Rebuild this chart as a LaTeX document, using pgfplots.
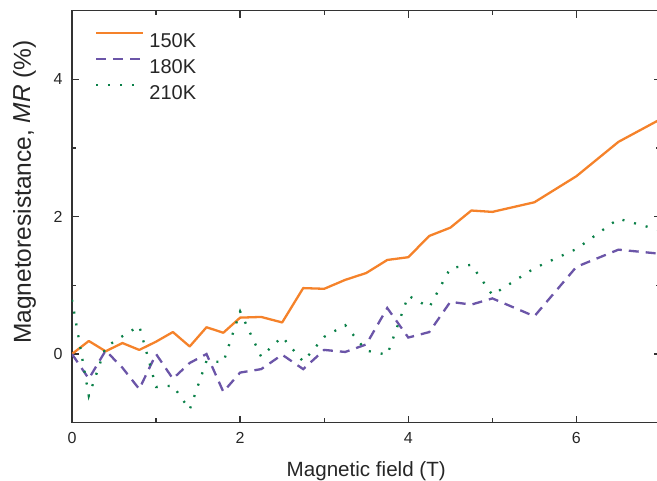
\documentclass[border=0pt]{standalone}
\usepackage{pgfplots}
\pgfplotsset{compat=1.18}
\usepackage{fontspec}
\setmainfont{Liberation Sans}

\definecolor{c150}{HTML}{F5822A}
\definecolor{c180}{HTML}{6B55A8}
\definecolor{c210}{HTML}{0A8048}
\definecolor{axisgray}{HTML}{333333}

\pgfplotstableread{
x y
0    0
0.2  0.19
0.4  0.04
0.6  0.16
0.8  0.06
1.0  0.18
1.2  0.32
1.4  0.11
1.6  0.39
1.8  0.31
2.0  0.53
2.25 0.54
2.5  0.46
2.75 0.96
3.0  0.95
3.25 1.08
3.5  1.18
3.75 1.37
4.0  1.41
4.25 1.72
4.5  1.84
4.75 2.09
5.0  2.07
5.5  2.21
6.0  2.59
6.5  3.09
7.0  3.42
}\tableA

\pgfplotstableread{
x y
0    0
0.2  -0.36
0.4  0.05
0.6  -0.20
0.8  -0.51
1.0  0.0
1.2  -0.36
1.4  -0.13
1.6  0.0
1.8  -0.55
2.0  -0.27
2.25 -0.22
2.5  -0.01
2.75 -0.22
3.0  0.06
3.25 0.03
3.5  0.14
3.75 0.67
4.0  0.24
4.25 0.32
4.5  0.76
4.75 0.72
5.0  0.81
5.5  0.55
6.0  1.27
6.5  1.52
7.0  1.46
}\tableB

\pgfplotstableread{
x y
0    0.79
0.2  -0.61
0.4  0.10
0.6  0.26
0.8  0.41
1.0  -0.48
1.2  -0.46
1.4  -0.81
1.6  -0.10
1.8  -0.12
2.0  0.62
2.25 -0.04
2.5  0.25
2.75 -0.11
3.0  0.25
3.25 0.42
3.5  0.05
3.75 -0.01
4.0  0.85
4.25 0.68
4.5  1.25
4.75 1.30
5.0  0.86
5.5  1.25
6.0  1.53
6.5  1.97
7.0  1.80
}\tableC

\begin{document}
\begin{tikzpicture}
\begin{axis}[
  scale only axis,
  width=588.5pt, height=412pt,
  xmin=0, xmax=7, ymin=-1, ymax=5,
  xtick={0,2,4,6}, minor xtick={1,3,5,7},
  ytick={0,2,4}, minor ytick={1,3},
  tick align=inside,
  major tick length=7pt, minor tick length=4.5pt,
  axis line style={line width=1.4pt, axisgray},
  every tick/.style={line width=1.4pt, axisgray},
  /pgf/number format/assume math mode=true,
  tick label style={font=\fontsize{16}{19}\selectfont, text=black!85},
  xticklabel style={yshift=-6pt},
  yticklabel style={xshift=-6pt},
  xlabel={Magnetic field (T)},
  ylabel={Magnetoresistance, \textit{MR} (\%)},
  label style={text=black!85},
  xlabel style={font=\fontsize{20.6}{24}\selectfont,
    at={(axis description cs:0.5,-0.1303)}, anchor=base},
  ylabel style={font=\fontsize{24.5}{28}\selectfont,
    at={(axis description cs:-0.07,0.56)}, anchor=base},
  legend style={
    at={(axis description cs:0,1)}, anchor=north west,
    xshift=23pt, yshift=-21pt,
    draw=none, fill=none, inner sep=0pt,
    font=\fontsize{20}{24}\selectfont,
    nodes={inner sep=0pt, text height=14.3pt, text depth=0pt, text=black!85},
    column sep=5pt, row sep=10.7pt,
  },
  legend cell align=left,
  legend image code/.code={\draw[#1] (0pt,7pt) -- (47pt,7pt);},
]
\addplot[c150, line width=2.3pt, line join=round] table[x=x, y=y] {\tableA};
\addlegendentry{150K}
\addplot[c180, line width=2.3pt, dash pattern=on 10pt off 7pt] table[x=x, y=y] {\tableB};
\addlegendentry{180K}
\addplot[c210, line width=2.3pt, dash pattern=on 2pt off 10pt] table[x=x, y=y] {\tableC};
\addlegendentry{210K}
\end{axis}
\pgfresetboundingbox
\path[use as bounding box] (-72pt,-58.3pt) rectangle (585pt,422.7pt);
\end{tikzpicture}
\end{document}
